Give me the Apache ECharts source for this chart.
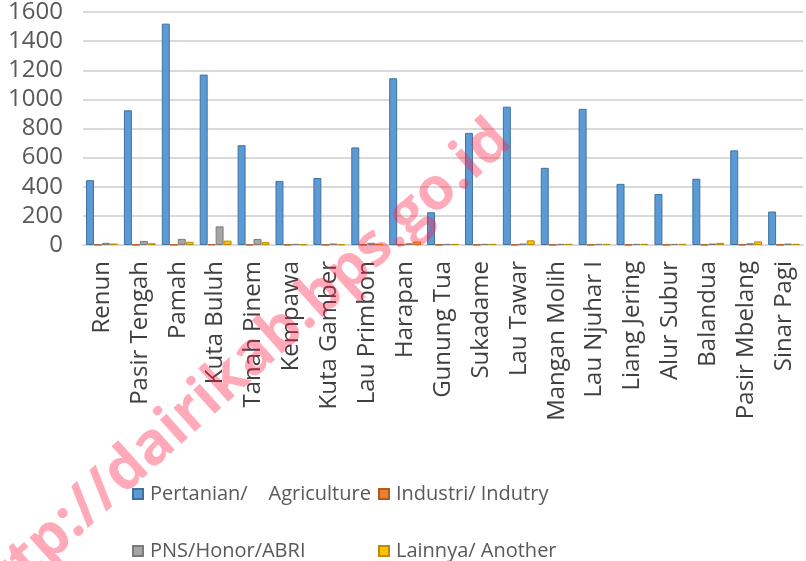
<!DOCTYPE html>
<html>
<head>
<meta charset="utf-8">
<script src="https://cdn.jsdelivr.net/npm/echarts@6/dist/echarts.min.js"></script>
<style>html,body{margin:0;padding:0;background:#fff;}#c{width:806px;height:561px;}</style>
</head>
<body>
<div id="c"></div>
<script>
var categories = ["Renun","Pasir Tengah","Pamah","Kuta Buluh","Tanah Pinem","Kempawa","Kuta Gamber","Lau Primbon","Harapan","Gunung Tua","Sukadame","Lau Tawar","Mangan Molih","Lau Njuhar I","Liang Jering","Alur Subur","Balandua","Pasir Mbelang","Sinar Pagi"];
var pertanian = [445, 925, 1520, 1170, 685, 440, 460, 670, 1145, 225, 770, 950, 530, 935, 420, 350, 455, 650, 230];
var industri  = [3, 2, 3, 5, 3, 2, 2, 3, 4, 2, 2, 3, 2, 2, 2, 2, 2, 3, 2];
var pns       = [15, 28, 42, 128, 42, 8, 10, 15, 12, 8, 8, 10, 8, 8, 8, 8, 10, 12, 10];
var lainnya   = [10, 12, 22, 30, 20, 5, 5, 8, 24, 8, 8, 32, 8, 8, 8, 8, 15, 25, 8];
var seriesNames = ["Pertanian/    Agriculture", "Industri/ Indutry", "PNS/Honor/ABRI", "Lainnya/ Another"];
var yTicks = [0, 200, 400, 600, 800, 1000, 1200, 1400, 1600];

var chart = echarts.init(document.getElementById('c'), null, {renderer: 'canvas'});
var fontFam = '"Open Sans", sans-serif';
function mk(name, data, color, border) {
  return {
    name: name, type: 'bar', data: data, barGap: '0%', barCategoryGap: '16%',
    itemStyle: {color: color, borderColor: border, borderWidth: 1}
  };
}
function lg(name, left, top) {
  return {data: [name], orient: 'horizontal', left: left, top: top, padding: 0,
    itemWidth: 10, itemHeight: 10, icon: 'rect', itemGap: 8,
    textStyle: {fontSize: 20, color: '#595959', fontFamily: fontFam, padding: [0, 0, 0, 2]}};
}
chart.setOption({
  animation: false,
  backgroundColor: '#fff',
  grid: {left: 83, right: 3, top: 12, bottom: 316, containLabel: false},
  xAxis: {
    type: 'category', data: categories,
    axisLine: {show: true, lineStyle: {color: '#d9d9d9', width: 2}},
    axisTick: {show: false},
    axisLabel: {rotate: 90, interval: 0, margin: 16, fontSize: 24, color: '#404040', fontFamily: fontFam}
  },
  yAxis: {
    type: 'value', min: yTicks[0], max: yTicks[yTicks.length - 1], interval: 200,
    axisLine: {show: false}, axisTick: {show: false},
    axisLabel: {fontSize: 24, color: '#595959', fontFamily: fontFam, margin: 20,
      formatter: function (v) { return String(v); }},
    splitLine: {lineStyle: {color: '#d9d9d9', width: 2}}
  },
  legend: [
    lg(seriesNames[0], 132, 484),
    lg(seriesNames[1], 378, 484),
    lg(seriesNames[2], 132, 541),
    lg(seriesNames[3], 378, 541)
  ],
  graphic: [{
    type: 'text', z: 100,
    x: 236, y: 372, rotation: 42 * Math.PI / 180,
    style: {text: 'http://dairikab.bps.go.id', fill: 'rgba(255,30,70,0.38)', font: 'bold 59px "Open Sans", sans-serif', textAlign: 'center', textVerticalAlign: 'middle'}
  }],
  series: [
    mk(seriesNames[0], pertanian, '#5b9bd5', '#41719c'),
    mk(seriesNames[1], industri, '#ed7d31', '#ae5a21'),
    mk(seriesNames[2], pns, '#a5a5a5', '#7b7b7b'),
    mk(seriesNames[3], lainnya, '#ffc000', '#bc8c00')
  ]
});
</script>
</body>
</html>
